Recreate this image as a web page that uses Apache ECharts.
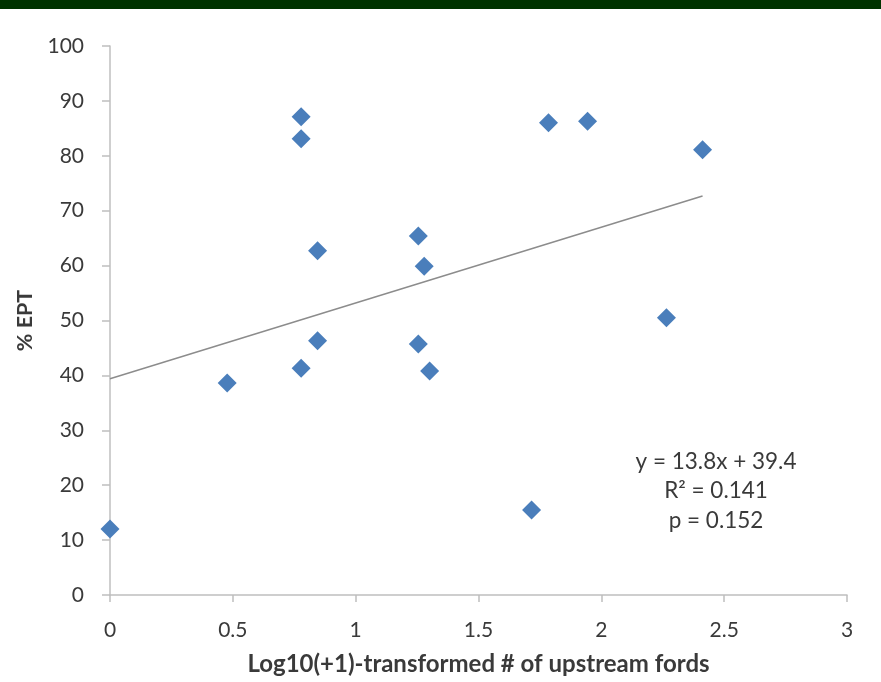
<!DOCTYPE html>
<html><head><meta charset="utf-8">
<script src="https://cdn.jsdelivr.net/npm/echarts@6/dist/echarts.min.js"></script>
<style>html,body{margin:0;padding:0;background:#fff;}#bar{position:absolute;left:0;top:0;width:881px;height:9px;background:#003300;}#c{position:absolute;left:0;top:0;width:881px;height:682px;}</style>
</head><body><div id="c"></div><div id="bar"></div>
<script>
const xValues = [0, 0.477, 0.778, 0.778, 0.845, 0.845, 0.778, 1.255, 1.279, 1.255, 1.301, 1.716, 1.785, 1.944, 2.265, 2.412];
const yValues = [12.0, 38.6, 87.1, 83.1, 62.7, 46.3, 41.3, 65.4, 59.9, 45.7, 40.8, 15.5, 86.0, 86.3, 50.5, 81.1];
const slope = 13.8, intercept = 39.4;
const trendX = [0, 2.412];
const statLines = ['y = 13.8x + 39.4', 'R\u00b2 = 0.141', 'p = 0.152'];

const points = xValues.map((x, i) => [x, yValues[i]]);
const trend = trendX.map(x => [x, slope * x + intercept]);
const font = 'Lato, "Open Sans", sans-serif';
const chart = echarts.init(document.getElementById('c'), null, {renderer: 'canvas'});
const statY = [462, 491, 521];
chart.setOption({
  animation: false,
  grid: {left: 110, right: 34, top: 46, bottom: 87, containLabel: false},
  xAxis: {
    type: 'value', min: 0, max: 3, interval: 0.5,
    name: 'Log10(+1)-transformed # of upstream fords', nameLocation: 'middle', nameGap: 57,
    nameTextStyle: {fontFamily: font, fontSize: 24, fontWeight: 'bold', color: '#3a3a3a'},
    axisLine: {show: true, lineStyle: {color: '#bfbfbf', width: 1.5}},
    axisTick: {show: true, length: 7, lineStyle: {color: '#bfbfbf', width: 1.5}},
    axisLabel: {fontFamily: font, fontSize: 21, color: '#3a3a3a', margin: 25},
    splitLine: {show: false}
  },
  yAxis: {
    type: 'value', min: 0, max: 100, interval: 10,
    name: '% EPT', nameLocation: 'middle', nameGap: 73, nameRotate: 90,
    nameTextStyle: {fontFamily: font, fontSize: 21.5, fontWeight: 'bold', color: '#3a3a3a'},
    axisLine: {show: true, lineStyle: {color: '#bfbfbf', width: 1.5}},
    axisTick: {show: true, length: 8, lineStyle: {color: '#bfbfbf', width: 1.5}},
    axisLabel: {fontFamily: font, fontSize: 21, color: '#3a3a3a', margin: 26},
    splitLine: {show: false}
  },
  graphic: statLines.map((t, i) => ({
    type: 'text', x: 716, y: statY[i],
    style: {text: t, fontFamily: font, fontSize: 22.5, fill: '#3a3a3a', textAlign: 'center', textVerticalAlign: 'middle', verticalAlign: 'middle', align: 'center'}
  })),
  series: [{
    type: 'line', data: trend, symbol: 'none', silent: true,
    lineStyle: {color: '#8c8c8c', width: 1.5}, z: 1
  }, {
    type: 'scatter', data: points, symbol: 'diamond', symbolSize: [19, 19],
    itemStyle: {color: '#4a7ebb', opacity: 1}, z: 2
  }]
});
</script></body></html>
